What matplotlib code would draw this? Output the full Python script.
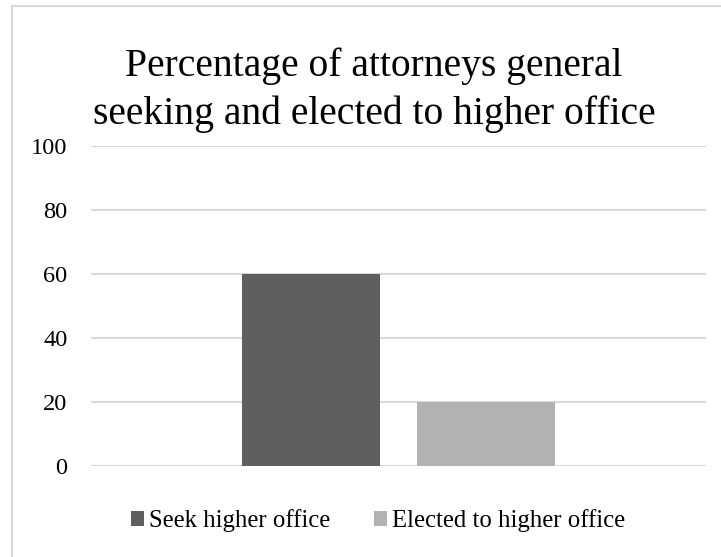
import matplotlib
matplotlib.use('Agg')
import matplotlib.pyplot as plt
from matplotlib.patches import Rectangle

# data
series_names = ['Seek higher office', 'Elected to higher office']
series_values = [60, 20]
series_colors = ['#5f5f5f', '#b2b2b2']
y_ticks = [0, 20, 40, 60, 80, 100]
title = 'Percentage of attorneys general\nseeking and elected to higher office'

plt.rcParams['font.family'] = ['Liberation Serif', 'DejaVu Serif']

fig = plt.figure(figsize=(7.21, 5.57), dpi=100)
W, H = 721, 557

# chart frame (only top/left visible in the reference, it is cropped)
fig.add_artist(Rectangle((11.5 / W, -0.2), 1.2, 1.2 - 5.5 / H,
                         transform=fig.transFigure, fill=False,
                         ec='#d9d9d9', lw=1.5))

ax = fig.add_axes([91 / W, (H - 466) / H, 615 / W, 320 / H])

offsets = [-0.1423, 0.1423]
bar_w = 0.2244
for name, val, col, off in zip(series_names, series_values, series_colors, offsets):
    ax.bar(off, val, width=bar_w, color=col, label=name, zorder=3)

ax.set_xlim(-0.5, 0.5)
ax.set_ylim(0, 100)
ax.set_yticks(y_ticks)
ax.set_yticklabels([str(t) for t in y_ticks])
ax.set_xticks([])
for s in ax.spines.values():
    s.set_visible(False)
ax.yaxis.grid(True, color='#d9d9d9', lw=1.5, zorder=0)
ax.tick_params(axis='y', length=0, pad=17, labelsize=17.6, labelcolor='#000000')

fig.text(374 / W, (H - 90) / H, title, ha='center', va='center',
         fontsize=28.5, linespacing=1.38, color='#000000')

ax.legend(loc='center', bbox_to_anchor=(378 / W, (H - 521) / H),
          bbox_transform=fig.transFigure, ncol=2, frameon=False,
          fontsize=17.8, handlelength=0.53, handleheight=0.53,
          handletextpad=0.2, columnspacing=1.75, borderpad=0)

fig.savefig('out.png', dpi=100)
